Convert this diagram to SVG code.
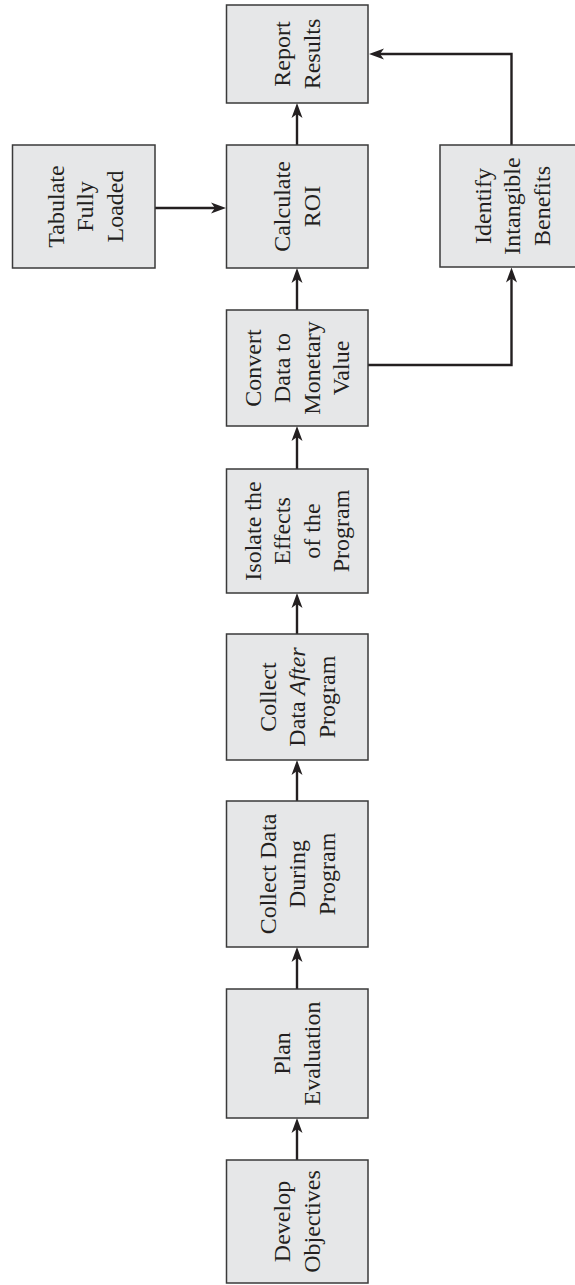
<svg xmlns="http://www.w3.org/2000/svg" width="575" height="1285" viewBox="0 0 575 1285">
<style>
.box{fill:#e6e7e8;stroke:#3a3a3a;stroke-width:1.5}
.lbl{font-family:"Liberation Serif","Times New Roman",serif;font-size:24px;fill:#231f20;text-anchor:middle}
.con{fill:none;stroke:#231f20;stroke-width:2.4}
</style>
<defs>
<marker id="ah" markerUnits="userSpaceOnUse" markerWidth="16" markerHeight="12" refX="7" refY="6" orient="auto">
<path d="M0,0.5 L15,6 L0,11.5 L4,6 z" fill="#231f20"/>
</marker>
</defs>
<rect width="575" height="1285" fill="#ffffff"/>
<g id="connectors">
<line class="con" x1="297" y1="145" x2="297" y2="111" marker-end="url(#ah)"/>
<line class="con" x1="297" y1="310" x2="297" y2="276" marker-end="url(#ah)"/>
<line class="con" x1="297" y1="469" x2="297" y2="434" marker-end="url(#ah)"/>
<line class="con" x1="297" y1="634" x2="297" y2="601" marker-end="url(#ah)"/>
<line class="con" x1="297" y1="801" x2="297" y2="768" marker-end="url(#ah)"/>
<line class="con" x1="297" y1="989" x2="297" y2="955" marker-end="url(#ah)"/>
<line class="con" x1="297" y1="1160" x2="297" y2="1126" marker-end="url(#ah)"/>
<line class="con" x1="155" y1="208" x2="218" y2="208" marker-end="url(#ah)"/>
<path class="con" d="M368,365 H511.5 V275.5" marker-end="url(#ah)"/>
<path class="con" d="M511.5,145 V54 H377" marker-end="url(#ah)"/>
</g>
<g id="report">
<rect class="box" x="226.5" y="5" width="141.5" height="98"/>
<text class="lbl" transform="translate(297,54) rotate(-90)"><tspan x="0" y="-6.75">Report</tspan><tspan x="0" y="22.75">Results</tspan></text>
</g>
<g id="calculate">
<rect class="box" x="226.5" y="145" width="141.5" height="123"/>
<text class="lbl" transform="translate(297,206.5) rotate(-90)"><tspan x="0" y="-6.75">Calculate</tspan><tspan x="0" y="22.75">ROI</tspan></text>
</g>
<g id="tabulate">
<rect class="box" x="12.5" y="145" width="142.5" height="123"/>
<text class="lbl" transform="translate(85,206.5) rotate(-90)"><tspan x="0" y="-21.5">Tabulate</tspan><tspan x="0" y="8">Fully</tspan><tspan x="0" y="37.5">Loaded</tspan></text>
</g>
<g id="identify">
<rect class="box" x="440" y="145" width="145" height="122"/>
<text class="lbl" transform="translate(512,206) rotate(-90)"><tspan x="0" y="-21.5">Identify</tspan><tspan x="0" y="8">Intangible</tspan><tspan x="0" y="37.5">Benefits</tspan></text>
</g>
<g id="convert">
<rect class="box" x="226.5" y="310" width="141.5" height="116"/>
<text class="lbl" transform="translate(297,368) rotate(-90)"><tspan x="0" y="-36.25">Convert</tspan><tspan x="0" y="-6.75">Data to</tspan><tspan x="0" y="22.75">Monetary</tspan><tspan x="0" y="52.25">Value</tspan></text>
</g>
<g id="isolate">
<rect class="box" x="226.5" y="469" width="141.5" height="124"/>
<text class="lbl" transform="translate(297,531) rotate(-90)"><tspan x="0" y="-36.25">Isolate the</tspan><tspan x="0" y="-6.75">Effects</tspan><tspan x="0" y="22.75">of the</tspan><tspan x="0" y="52.25">Program</tspan></text>
</g>
<g id="collect-after">
<rect class="box" x="226.5" y="634" width="141.5" height="126"/>
<text class="lbl" transform="translate(297,697) rotate(-90)"><tspan x="0" y="-21.5">Collect</tspan><tspan x="0" y="8">Data <tspan font-style="italic">After</tspan></tspan><tspan x="0" y="37.5">Program</tspan></text>
</g>
<g id="collect-during">
<rect class="box" x="226.5" y="801" width="141.5" height="146"/>
<text class="lbl" transform="translate(297,874) rotate(-90)"><tspan x="0" y="-21.5">Collect Data</tspan><tspan x="0" y="8">During</tspan><tspan x="0" y="37.5">Program</tspan></text>
</g>
<g id="plan">
<rect class="box" x="226.5" y="989" width="141.5" height="129"/>
<text class="lbl" transform="translate(297,1053.5) rotate(-90)"><tspan x="0" y="-6.75">Plan</tspan><tspan x="0" y="22.75">Evaluation</tspan></text>
</g>
<g id="develop">
<rect class="box" x="226.5" y="1160" width="141.5" height="123"/>
<text class="lbl" transform="translate(297,1221.5) rotate(-90)"><tspan x="0" y="-6.75">Develop</tspan><tspan x="0" y="22.75">Objectives</tspan></text>
</g>
</svg>
